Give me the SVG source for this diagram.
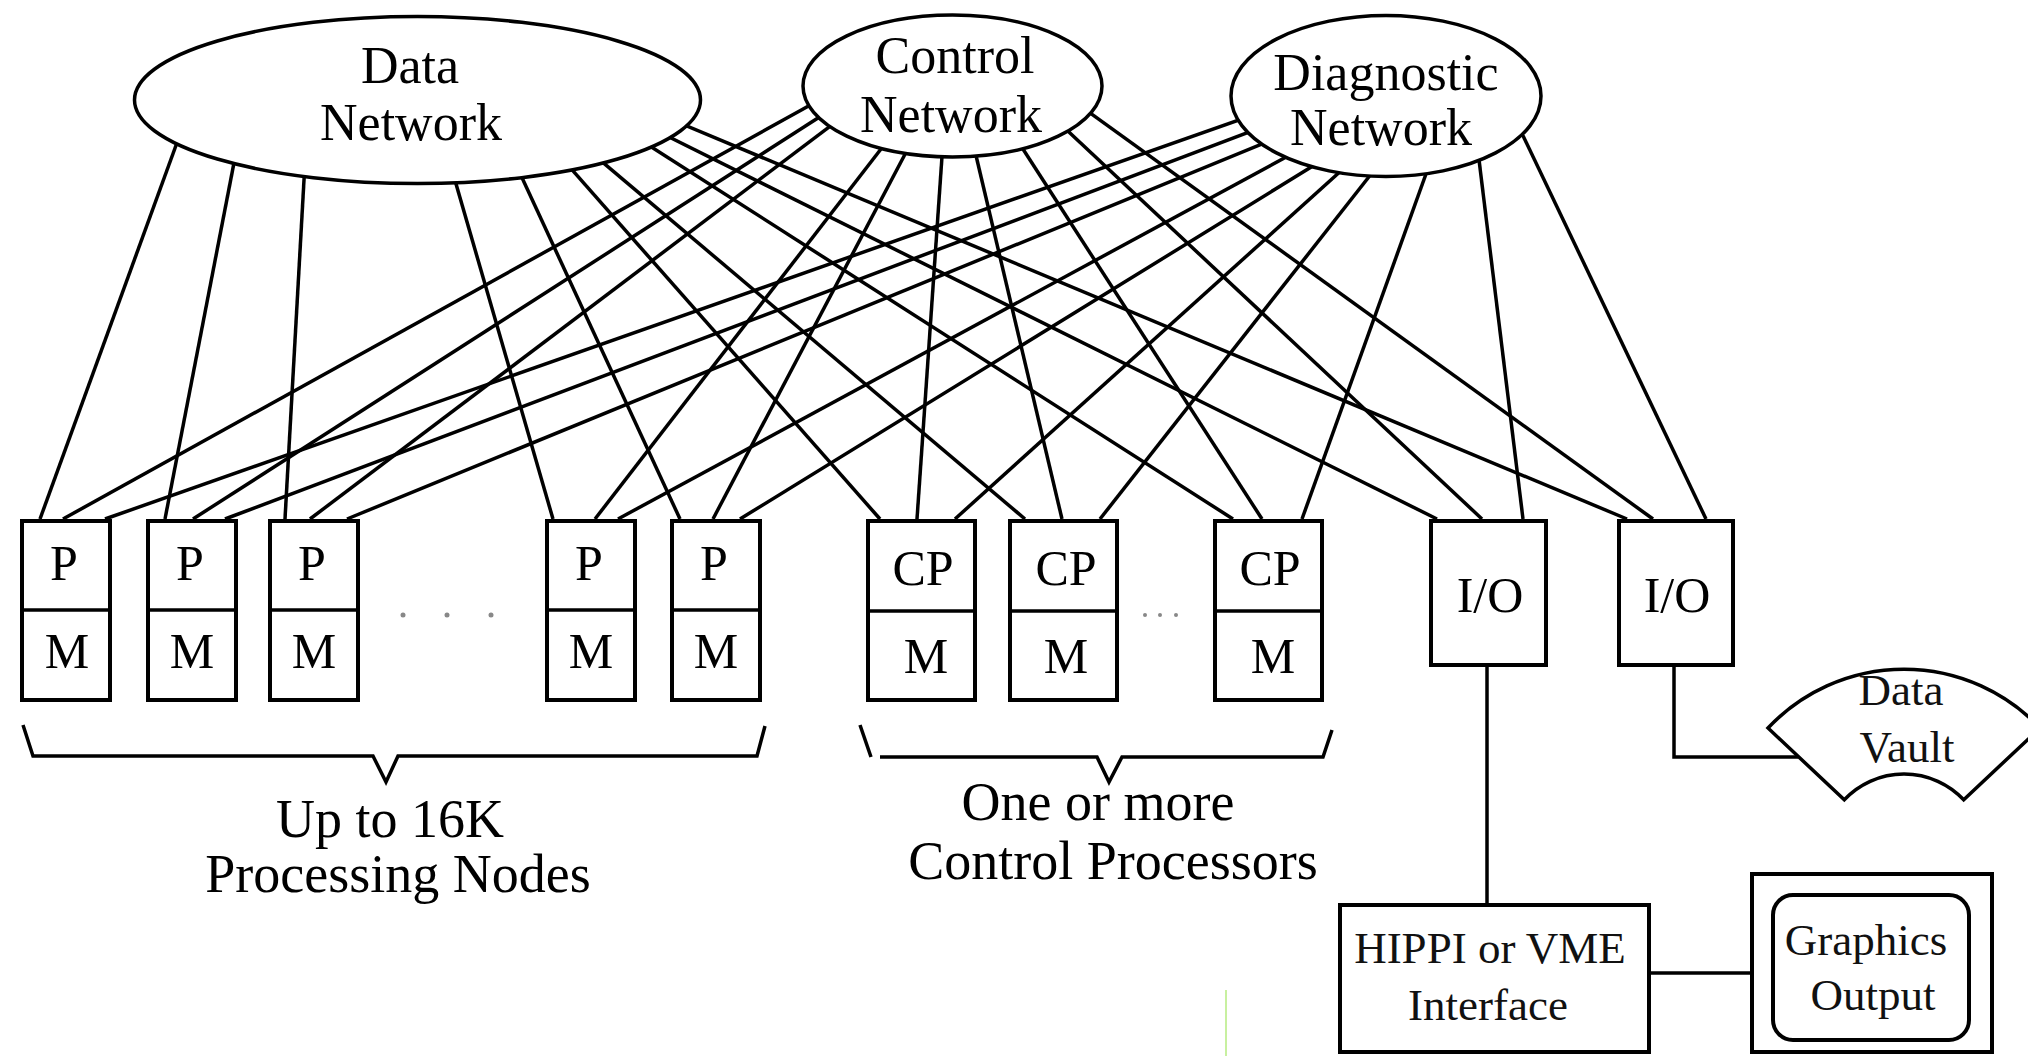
<svg xmlns="http://www.w3.org/2000/svg" width="2028" height="1056" viewBox="0 0 2028 1056">
<style>
text{font-family:"Liberation Serif","Times New Roman",serif;fill:#000;text-anchor:middle}
.net{fill:#fff;stroke:#000;stroke-width:3.5}
.box{fill:#fff;stroke:#000;stroke-width:4}
.ln{stroke:#000;stroke-width:3.5;fill:none}
.brace{stroke:#000;stroke-width:3.5;fill:none}
.lbl{font-size:52px}
.pm{font-size:50px}
.big{font-size:54px}
.sm{font-size:45px;fill:#111}
.dot{fill:#888}
</style>
<rect width="2028" height="1056" fill="#fff"/>
<g id="connectors" class="ln">
<line x1="181.8" y1="129.5" x2="40" y2="519"/>
<line x1="236.4" y1="150.4" x2="165" y2="519"/>
<line x1="305" y1="162" x2="285" y2="519"/>
<line x1="451.2" y1="167.3" x2="553" y2="519"/>
<line x1="515.2" y1="163" x2="680" y2="519"/>
<line x1="558.7" y1="154.7" x2="880" y2="519"/>
<line x1="585" y1="147.3" x2="1025" y2="519"/>
<line x1="624" y1="129.5" x2="1233" y2="519"/>
<line x1="637" y1="121" x2="1437" y2="519"/>
<line x1="645" y1="108.5" x2="1627" y2="519"/>
<line x1="842" y1="87.5" x2="63" y2="519"/>
<line x1="846" y1="100" x2="193" y2="519"/>
<line x1="850.8" y1="110.6" x2="310" y2="519"/>
<line x1="892" y1="134.7" x2="595" y2="519"/>
<line x1="912.5" y1="140" x2="713" y2="519"/>
<line x1="943" y1="142" x2="917" y2="519"/>
<line x1="972.8" y1="142" x2="1062" y2="519"/>
<line x1="1015" y1="136.8" x2="1262" y2="519"/>
<line x1="1049.4" y1="113.7" x2="1482" y2="519"/>
<line x1="1065" y1="94.8" x2="1653" y2="519"/>
<line x1="1290" y1="102" x2="105" y2="519"/>
<line x1="1294" y1="115" x2="225" y2="519"/>
<line x1="1300" y1="128.4" x2="347" y2="519"/>
<line x1="1312" y1="143" x2="618" y2="519"/>
<line x1="1336.4" y1="151.5" x2="740" y2="519"/>
<line x1="1353" y1="160" x2="955" y2="519"/>
<line x1="1379" y1="164" x2="1100" y2="519"/>
<line x1="1431" y1="160" x2="1302" y2="519"/>
<line x1="1478" y1="151.5" x2="1523" y2="519"/>
<line x1="1516" y1="121" x2="1706" y2="519"/>
<line x1="1487" y1="665" x2="1487" y2="905"/>
<line x1="1649" y1="973" x2="1752" y2="973"/>
<polyline points="1674,665 1674,757 1798,757"/>
</g>
<g id="data-network">
<ellipse class="net" cx="417.5" cy="100" rx="283" ry="83.5"/>
<text class="lbl" x="410" y="83">Data</text>
<text class="lbl" x="411" y="140">Network</text>
</g>
<g id="control-network">
<ellipse class="net" cx="952.5" cy="86" rx="149.5" ry="71"/>
<text class="lbl" x="955" y="73">Control</text>
<text class="lbl" x="951" y="132">Network</text>
</g>
<g id="diagnostic-network">
<ellipse class="net" cx="1386" cy="96" rx="155" ry="80.5"/>
<text class="lbl" x="1386" y="90">Diagnostic</text>
<text class="lbl" x="1381" y="145">Network</text>
</g>
<g id="pm1"><rect class="box" x="22" y="521" width="88" height="179"/><line class="ln" x1="22" y1="610" x2="110" y2="610" stroke-width="4"/><text class="pm" x="64" y="580">P</text><text class="pm" x="67" y="668">M</text></g>
<g id="pm2"><rect class="box" x="148" y="521" width="88" height="179"/><line class="ln" x1="148" y1="610" x2="236" y2="610" stroke-width="4"/><text class="pm" x="190" y="580">P</text><text class="pm" x="192" y="668">M</text></g>
<g id="pm3"><rect class="box" x="270" y="521" width="88" height="179"/><line class="ln" x1="270" y1="610" x2="358" y2="610" stroke-width="4"/><text class="pm" x="312" y="580">P</text><text class="pm" x="314" y="668">M</text></g>
<g id="pm4"><rect class="box" x="547" y="521" width="88" height="179"/><line class="ln" x1="547" y1="610" x2="635" y2="610" stroke-width="4"/><text class="pm" x="589" y="580">P</text><text class="pm" x="591" y="668">M</text></g>
<g id="pm5"><rect class="box" x="672" y="521" width="88" height="179"/><line class="ln" x1="672" y1="610" x2="760" y2="610" stroke-width="4"/><text class="pm" x="714" y="580">P</text><text class="pm" x="716" y="668">M</text></g>
<g id="pm-ellipsis"><circle class="dot" cx="403" cy="615" r="2.5"/><circle class="dot" cx="447" cy="615" r="2.5"/><circle class="dot" cx="491" cy="615" r="2.5"/></g>
<g id="cp1"><rect class="box" x="868" y="521" width="107" height="179"/><line class="ln" x1="868" y1="611" x2="975" y2="611" stroke-width="4"/><text class="pm" x="923" y="585">CP</text><text class="pm" x="926" y="673">M</text></g>
<g id="cp2"><rect class="box" x="1010" y="521" width="107" height="179"/><line class="ln" x1="1010" y1="611" x2="1117" y2="611" stroke-width="4"/><text class="pm" x="1066" y="585">CP</text><text class="pm" x="1066" y="673">M</text></g>
<g id="cp3"><rect class="box" x="1215" y="521" width="107" height="179"/><line class="ln" x1="1215" y1="611" x2="1322" y2="611" stroke-width="4"/><text class="pm" x="1270" y="585">CP</text><text class="pm" x="1273" y="673">M</text></g>
<g id="cp-ellipsis"><circle class="dot" cx="1145" cy="615" r="2"/><circle class="dot" cx="1160" cy="615" r="2"/><circle class="dot" cx="1176" cy="615" r="2"/></g>
<g id="io1"><rect class="box" x="1431" y="521" width="115" height="144"/><text class="pm" x="1490" y="612">I/O</text></g>
<g id="io2"><rect class="box" x="1619" y="521" width="114" height="144"/><text class="pm" x="1677" y="612">I/O</text></g>
<g id="brace-pn">
<polyline class="brace" points="23,725 33,756 373,756 386,782 398,756 757,756 765,726"/>
<text class="big" x="390" y="837">Up to 16K</text>
<text class="big" x="398" y="892">Processing Nodes</text>
</g>
<g id="brace-cp">
<polyline class="brace" points="860,725 871,757"/>
<polyline class="brace" points="880,757 1097,757 1109,782 1122,757 1323,757 1332,730"/>
<text class="big" x="1098" y="820">One or more</text>
<text class="big" x="1113" y="879">Control Processors</text>
</g>
<g id="data-vault">
<path class="net" d="M1768,728 A186.8,186.8 0 0 1 2040,728 L1963.7,799.8 A82,82 0 0 0 1844.3,799.8 Z"/>
<text class="sm" x="1901" y="705">Data</text>
<text class="sm" x="1907" y="762">Vault</text>
</g>
<g id="hippi">
<rect class="box" x="1340" y="905" width="309" height="147"/>
<text class="sm" x="1490" y="963">HIPPI or VME</text>
<text class="sm" x="1488" y="1020">Interface</text>
</g>
<g id="graphics">
<rect class="box" x="1752" y="874" width="240" height="178"/>
<rect class="box" x="1773" y="895" width="196" height="145" rx="20"/>
<text class="sm" x="1866" y="955">Graphics</text>
<text class="sm" x="1873" y="1010">Output</text>
</g>
<line x1="1226" y1="990" x2="1226" y2="1056" stroke="#c8f0a0" stroke-width="2"/>
</svg>
